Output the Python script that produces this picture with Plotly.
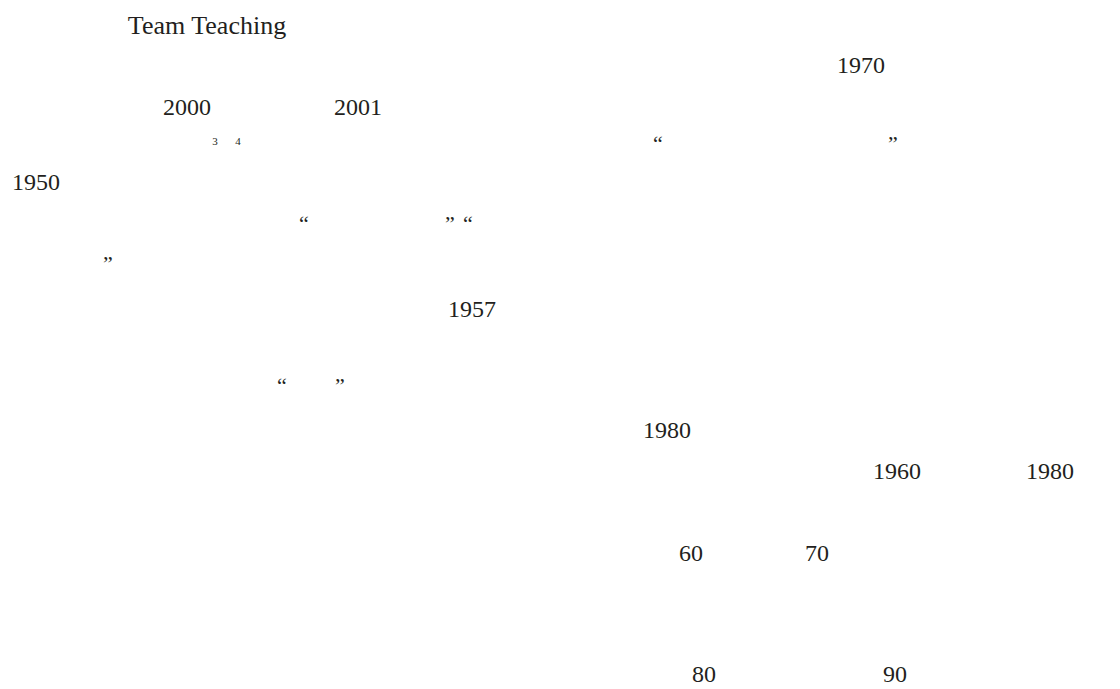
import plotly.graph_objects as go

# Text items: (label, x-centre px, y-centre px)
big_labels = ["2000", "2001", "1970", "1950", "1957", "1980", "1960", "1980", "60", "70", "80", "90"]
big_x = [187, 358, 861, 36, 472, 667, 897, 1050, 691, 817, 704, 895]
big_y = [109, 109, 67, 184, 311, 432, 473, 473, 555, 555, 676, 676]

title_label = ["Team Teaching"]
title_x = [207]
title_y = [27]

note_labels = ["3", "4"]
note_x = [215, 238]
note_y = [142, 142]

quote_labels = ["\u201c", "\u201d", "\u201c", "\u201d", "\u201c", "\u201d", "\u201c", "\u201d"]
quote_x = [658, 893, 304, 450, 468, 108, 282, 340]
quote_y = [145, 145, 225, 225, 225, 265, 387, 387]

INK = "#231f20"
FONT = "Liberation Serif"
PAGE_OFFSET = 8  # default body margin of the HTML page

fig = go.Figure()
for xs, ys, labels, size in [
    (title_x, title_y, title_label, 26),
    (big_x, big_y, big_labels, 24),
    (note_x, note_y, note_labels, 11),
    (quote_x, quote_y, quote_labels, 22),
]:
    fig.add_trace(go.Scatter(x=xs, y=ys, text=labels, mode="text",
                             textposition="middle center",
                             textfont=dict(family=FONT, size=size, color=INK),
                             cliponaxis=False,
                             hoverinfo="skip", showlegend=False))

fig.update_layout(
    width=1120, height=689,
    margin=dict(l=0, r=0, t=0, b=0),
    paper_bgcolor="white", plot_bgcolor="white",
    xaxis=dict(range=[PAGE_OFFSET, 1120 + PAGE_OFFSET], visible=False, fixedrange=True),
    yaxis=dict(range=[689 + PAGE_OFFSET, PAGE_OFFSET], visible=False, fixedrange=True),
)

fig.write_html("out.html")
